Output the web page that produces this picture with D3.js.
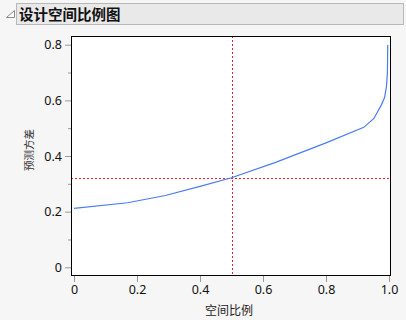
<!DOCTYPE html>
<html>
<head>
<meta charset="utf-8">
<script src="https://cdn.jsdelivr.net/npm/d3@7"></script>
<style>
  body { margin: 0; background: #f6f6f6; }
  svg { display: block; }
</style>
</head>
<body>
<svg id="chart" width="406" height="320"></svg>
<script>
// fraction of design space vs prediction variance
const fractionVals = [0, 0.17, 0.29, 0.40, 0.50, 0.64, 0.80, 0.92, 0.952, 0.975, 0.986, 0.992, 0.995, 0.996];
const varianceVals = [0.212, 0.232, 0.258, 0.291, 0.322, 0.377, 0.447, 0.503, 0.535, 0.582, 0.610, 0.650, 0.700, 0.799];
const xTicks = [0, 0.2, 0.4, 0.6, 0.8, 1.0];
const yTicks = [0, 0.2, 0.4, 0.6, 0.8];
const yMinorTicks = [0.1, 0.3, 0.5, 0.7];
const refX = 0.5;
const refY = 0.321;

const titleText = "设计空间比例图";
const xLabel = "空间比例";
const yLabel = "预测方差";

const svg = d3.select("#chart");
const cjk = "'Noto Sans CJK SC', sans-serif";
const latin = "'Noto Sans', 'DejaVu Sans', sans-serif";

// title bar
svg.append("rect")
    .attr("x", 16.5).attr("y", 3.5)
    .attr("width", 387).attr("height", 21)
    .attr("fill", "#e9e9e9")
    .attr("stroke", "#b8b8b8");
svg.append("path")
    .attr("d", "M14.5,10.5 L14.5,17.5 L6.5,17.5 Z")
    .attr("fill", "#fff")
    .attr("stroke", "#8a8a8a");
svg.append("text")
    .attr("x", 19).attr("y", 19.5)
    .attr("font-family", cjk)
    .attr("font-size", 14.5)
    .attr("font-weight", "bold")
    .attr("fill", "#111")
    .text(titleText);

// plot area
const frame = { left: 71, top: 36, right: 391, bottom: 276 };

const x = d3.scaleLinear().domain([0, 1]).range([74, 389]);
const y = d3.scaleLinear().domain([0, 0.8]).range([267.3, 44.7]);

svg.append("rect")
    .attr("x", frame.left).attr("y", frame.top)
    .attr("width", frame.right - frame.left)
    .attr("height", frame.bottom - frame.top)
    .attr("fill", "#fff");

// y axis
const yAxis = svg.append("g")
    .attr("transform", `translate(${frame.left},0)`)
    .call(d3.axisLeft(y).tickValues(yTicks).tickSize(6).tickPadding(3)
        .tickFormat(d => d === 0 ? "0" : d3.format(".1f")(d)));
yAxis.select(".domain").remove();
yAxis.selectAll("line").attr("stroke", "#999");
yAxis.selectAll("text").attr("font-family", latin).attr("font-size", 12.5).attr("fill", "#111");

const yMinor = svg.append("g")
    .attr("transform", `translate(${frame.left},0)`)
    .call(d3.axisLeft(y).tickValues(yMinorTicks).tickSize(3).tickFormat(""));
yMinor.select(".domain").remove();
yMinor.selectAll("line").attr("stroke", "#999");

// x axis
const xAxis = svg.append("g")
    .attr("transform", `translate(0,${frame.bottom})`)
    .call(d3.axisBottom(x).tickValues(xTicks).tickSize(6).tickPadding(3)
        .tickFormat(d => d === 0 ? "0" : d3.format(".1f")(d)));
xAxis.select(".domain").remove();
xAxis.selectAll("line").attr("stroke", "#999");
xAxis.selectAll("text").attr("font-family", latin).attr("font-size", 12.5).attr("fill", "#111");

// reference lines
svg.append("line")
    .attr("x1", frame.left).attr("x2", frame.right)
    .attr("y1", Math.round(y(refY)) + 0.5).attr("y2", Math.round(y(refY)) + 0.5)
    .attr("stroke", "#e8203a")
    .attr("stroke-dasharray", "2,2");
svg.append("line")
    .attr("x1", Math.round(x(refX)) + 0.5).attr("x2", Math.round(x(refX)) + 0.5)
    .attr("y1", frame.top).attr("y2", frame.bottom)
    .attr("stroke", "#e0203a")
    .attr("stroke-dasharray", "2,2");

// curve
const pts = fractionVals.map((f, i) => [f, varianceVals[i]]);
svg.append("path")
    .datum(pts)
    .attr("fill", "none")
    .attr("stroke", "#4a7cf2")
    .attr("stroke-width", 1.2)
    .attr("d", d3.line().x(d => x(d[0])).y(d => y(d[1])));

// frame border
svg.append("rect")
    .attr("x", frame.left + 0.5).attr("y", frame.top + 0.5)
    .attr("width", frame.right - frame.left - 1)
    .attr("height", frame.bottom - frame.top - 1)
    .attr("fill", "none")
    .attr("stroke", "#000");

// axis labels
svg.append("text")
    .attr("x", 229).attr("y", 315)
    .attr("text-anchor", "middle")
    .attr("font-family", cjk)
    .attr("font-size", 12)
    .attr("fill", "#222")
    .text(xLabel);
svg.append("text")
    .attr("transform", "translate(33,150) rotate(-90)")
    .attr("text-anchor", "middle")
    .attr("font-family", cjk)
    .attr("font-size", 10.5)
    .attr("fill", "#333")
    .text(yLabel);
</script>
</body>
</html>
